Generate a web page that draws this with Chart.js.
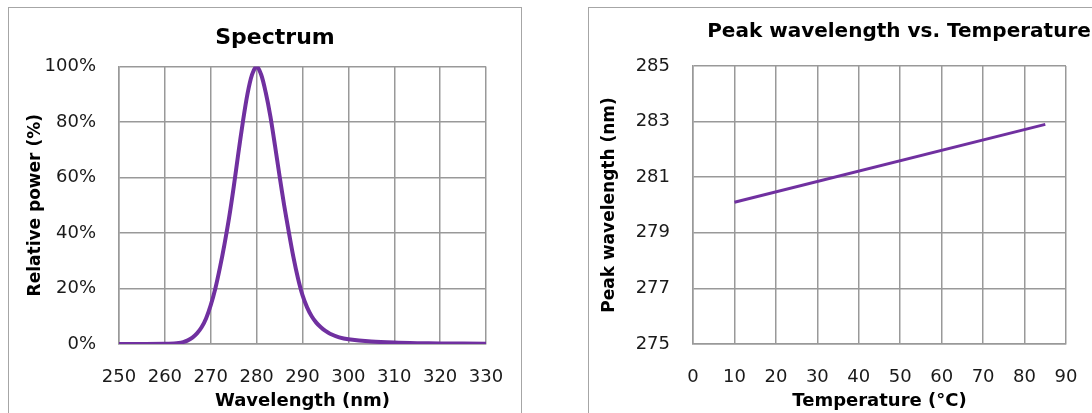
<!DOCTYPE html>
<html>
<head>
<meta charset="utf-8">
<script src="https://cdn.jsdelivr.net/npm/chart.js@4.4.1/dist/chart.umd.min.js"></script>
<style>
  html, body { margin: 0; padding: 0; background: #fff; overflow: hidden; }
  body { position: relative; width: 1092px; height: 413px; }
  .frame { position: absolute; border: 1px solid #a6a6a6; box-sizing: border-box; }
  canvas { position: absolute; }
</style>
</head>
<body>
<div class="frame" style="left:8px;top:7px;width:514px;height:440px"></div>
<div class="frame" style="left:588px;top:7px;width:700px;height:440px"></div>
<canvas id="spectrum" width="534" height="406" style="left:8px;top:7px"></canvas>
<canvas id="peak" width="622" height="406" style="left:588px;top:7px"></canvas>
<script>
// spectrum (relative power vs wavelength)
const wavelengths = [250, 255, 260, 262, 263, 264, 265, 266, 267, 268, 269, 270, 271, 272, 273, 274, 275, 276, 277, 278, 279, 280,
  281, 282, 283, 284, 285, 286, 287, 288, 289, 290, 291, 292, 293, 294, 295, 296, 298, 300, 305, 310, 315, 320, 330];
const relPower = [0, 0, 0.05, 0.2, 0.35, 0.7, 1.3, 2.3, 3.8, 6, 9.3, 14, 20, 27.5, 36, 45.5, 56.5, 68.5, 80, 90, 97, 100,
  97, 90.5, 82, 71.5, 60.5, 50, 40.5, 31.5, 23.8, 17.6, 13.2, 10, 7.7, 6, 4.7, 3.7, 2.4, 1.7, 0.9, 0.5, 0.3, 0.2, 0.1];

// peak wavelength vs temperature
const temps = [10, 85];
const peakWl = [280.1, 282.9];

const wlTicks = { min: 250, max: 330, step: 10 };
const powerTicks = { min: 0, max: 100, step: 20 };
const tempTicks = { min: 0, max: 90, step: 10 };
const peakTicks = { min: 275, max: 285, step: 2 };

const purple = "#7030A0";
const gridColor = "#999999";
const FONT = "'DejaVu Sans', sans-serif";

function gridOpts() {
  return { color: gridColor, lineWidth: 1.5, drawTicks: false };
}

// empty axis on the right, only used to keep space so the title sits where it should
function spacer(w) {
  return {
    position: "right",
    display: true,
    ticks: { display: false },
    grid: { display: false },
    border: { display: false },
    afterFit: (axis) => { axis.width = w; },
  };
}

new Chart(document.getElementById("spectrum"), {
  type: "line",
  data: {
    datasets: [{
      xAxisID: "x",
      yAxisID: "y",
      data: wavelengths.map((w, i) => ({ x: w, y: relPower[i] })),
      borderColor: purple,
      borderWidth: 4,
      pointRadius: 0,
      tension: 0.3,
      fill: false,
    }],
  },
  options: {
    responsive: false,
    animation: false,
    layout: { padding: 0 },
    plugins: {
      legend: { display: false },
      tooltip: { enabled: false },
      title: {
        display: true,
        text: "Spectrum",
        color: "#000",
        font: { family: FONT, size: 22, weight: "bold" },
        padding: { top: 18, bottom: 15 },
      },
    },
    scales: {
      x: {
        type: "linear",
        min: wlTicks.min, max: wlTicks.max,
        ticks: { stepSize: wlTicks.step, color: "#1a1a1a", padding: 23, font: { family: FONT, size: 18 }, maxRotation: 0 },
        grid: gridOpts(),
        border: { color: gridColor, width: 1.5 },
        title: { display: true, text: "Wavelength (nm)", color: "#000", font: { family: FONT, size: 18, weight: "bold" }, padding: { top: 0, bottom: 1 } },
        afterFit: (axis) => { axis.height = 69; },
      },
      y: {
        min: powerTicks.min, max: powerTicks.max,
        ticks: { stepSize: powerTicks.step, color: "#1a1a1a", padding: 23, font: { family: FONT, size: 18 }, callback: (v) => v + "%" },
        grid: gridOpts(),
        border: { color: gridColor, width: 1.5 },
        title: { display: true, text: "Relative power (%)", color: "#000", font: { family: FONT, size: 17, weight: "bold" }, padding: { top: 17, bottom: 0 } },
        afterFit: (axis) => { axis.width = 111; },
      },
      y2: spacer(56),
    },
  },
});

new Chart(document.getElementById("peak"), {
  type: "line",
  data: {
    datasets: [{
      xAxisID: "x",
      yAxisID: "y",
      data: temps.map((t, i) => ({ x: t, y: peakWl[i] })),
      borderColor: purple,
      borderWidth: 3,
      pointRadius: 0,
      fill: false,
    }],
  },
  options: {
    responsive: false,
    animation: false,
    layout: { padding: 0 },
    plugins: {
      legend: { display: false },
      tooltip: { enabled: false },
      title: {
        display: true,
        text: "Peak wavelength vs. Temperature",
        color: "#000",
        font: { family: FONT, size: 20, weight: "bold" },
        padding: { top: 13, bottom: 22 },
      },
    },
    scales: {
      x: {
        type: "linear",
        min: tempTicks.min, max: tempTicks.max,
        ticks: { stepSize: tempTicks.step, color: "#1a1a1a", padding: 23, font: { family: FONT, size: 18 }, maxRotation: 0 },
        grid: gridOpts(),
        border: { color: gridColor, width: 1.5 },
        title: { display: true, text: "Temperature (°C)", color: "#000", font: { family: FONT, size: 18, weight: "bold" }, padding: { top: 0, bottom: 1 } },
        afterFit: (axis) => { axis.height = 69; },
      },
      y: {
        min: peakTicks.min, max: peakTicks.max,
        ticks: { stepSize: peakTicks.step, color: "#1a1a1a", padding: 23, font: { family: FONT, size: 18 } },
        grid: gridOpts(),
        border: { color: gridColor, width: 1.5 },
        title: { display: true, text: "Peak wavelength (nm)", color: "#000", font: { family: FONT, size: 17, weight: "bold" }, padding: { top: 11, bottom: 0 } },
        afterFit: (axis) => { axis.width = 105; },
      },
      y2: spacer(144),
    },
  },
});
</script>
</body>
</html>
